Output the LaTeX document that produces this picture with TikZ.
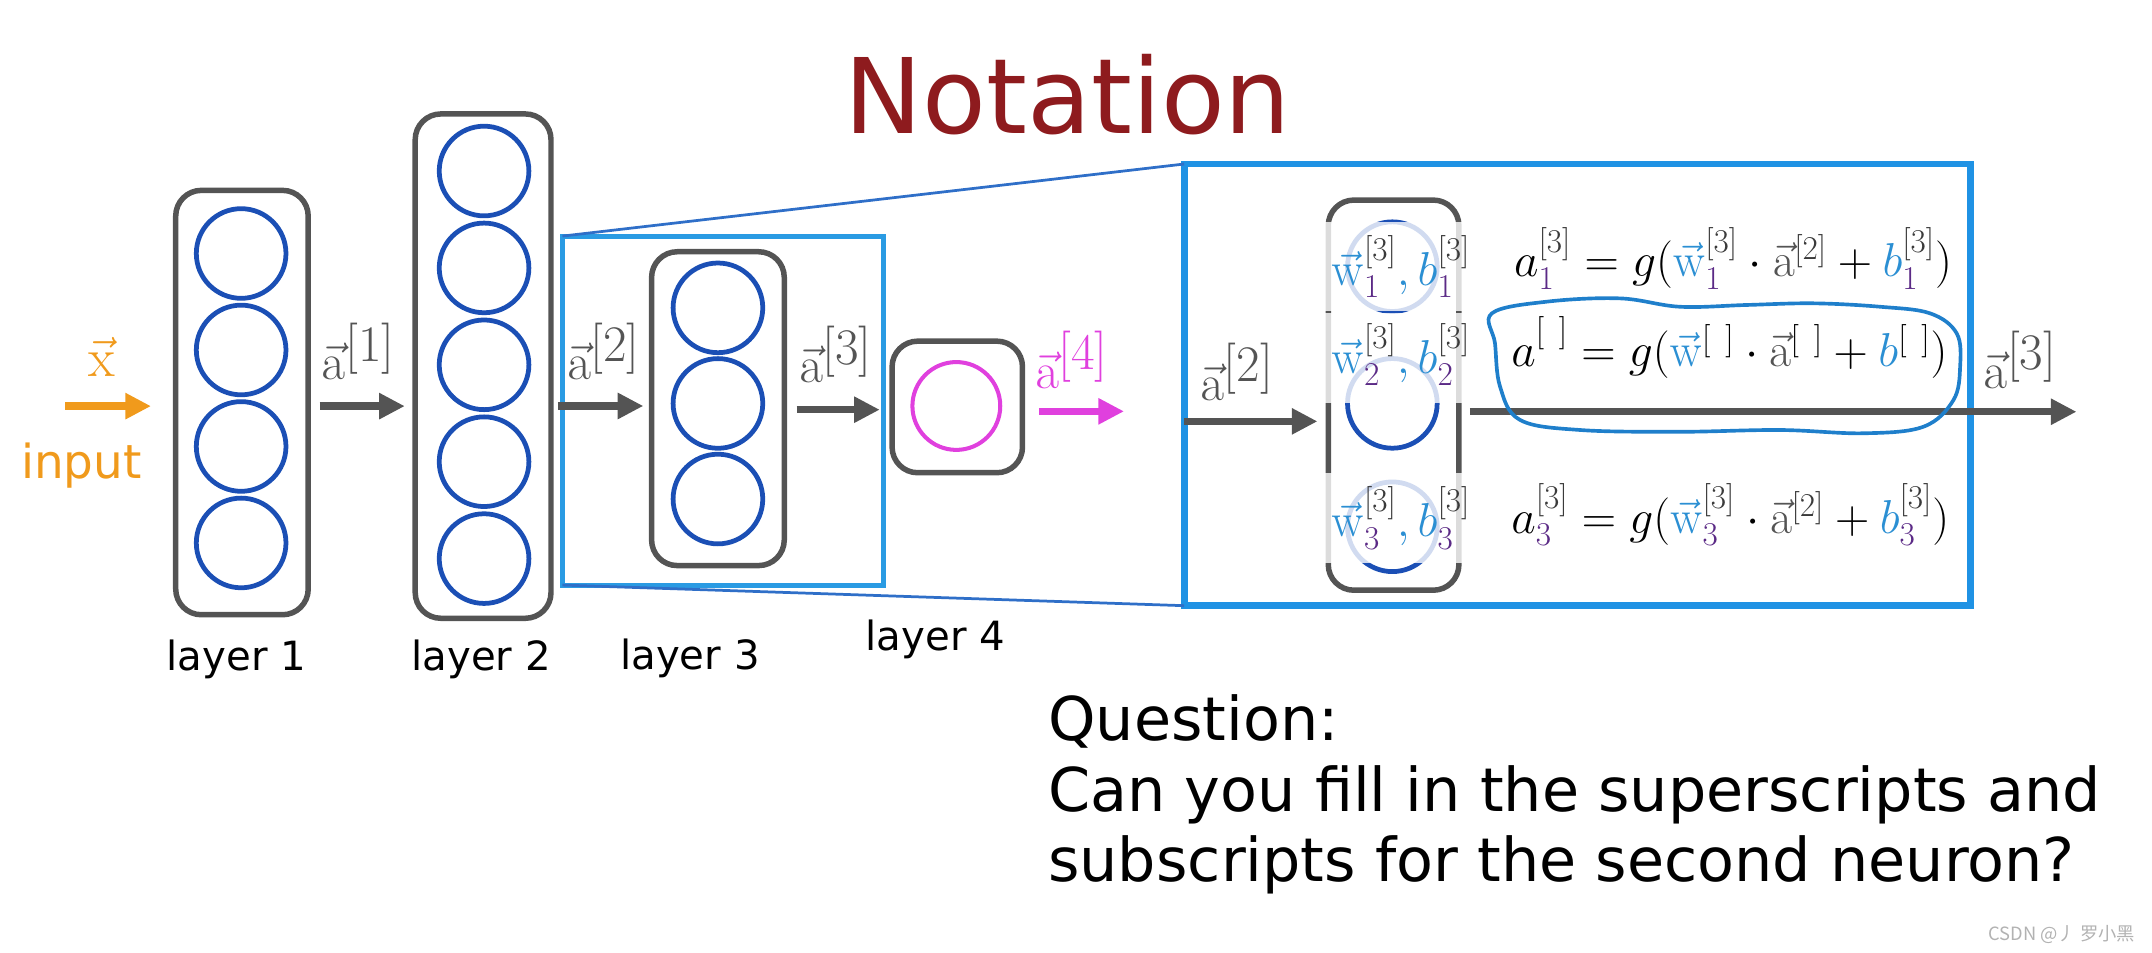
\documentclass[tikz,border=0pt]{standalone}
\usepackage{fix-cm}
\usepackage[no-math]{fontspec}
\setmainfont{DejaVu Sans}
\newfontfamily\cjkfont{Noto Sans CJK SC}
\usepackage{amsmath}
\usetikzlibrary{arrows.meta}
\definecolor{boxgray}{HTML}{545454}
\definecolor{neuronblue}{HTML}{1B4FB5}
\definecolor{hlblue}{HTML}{2A9BE3}
\definecolor{zoomblue}{HTML}{2F6FC8}
\definecolor{bigblue}{HTML}{1F92E4}
\definecolor{inorange}{HTML}{F09A1C}
\definecolor{outpink}{HTML}{E040DE}
\definecolor{titlered}{HTML}{8E1B1E}
\definecolor{wblue}{HTML}{2B8FD3}
\definecolor{ixpurple}{HTML}{5B2A86}
\definecolor{supgray}{HTML}{3A3A3A}
\definecolor{inkblue}{HTML}{1F7FCB}

\newcommand{\avec}{{\color{boxgray}\vec{\mathrm{a}}}}
\newcommand{\wvec}{{\color{wblue}\vec{\mathrm{w}}}}
\newcommand{\bw}{{\color{wblue}b}}
\newcommand{\ix}[1]{{\color{ixpurple}#1}}
\newcommand{\lay}[1]{{\color{supgray}[#1]}}
\newcommand{\actv}[1]{$\vec{\mathrm{a}}^{\textstyle[#1]}$}

\tikzset{
  layerbox/.style={draw=boxgray, line width=3pt, rounded corners=14pt, inner sep=0pt, outer sep=0pt},
  neuron/.style={circle, draw=neuronblue, line width=2.6pt, minimum size=49pt, inner sep=0pt},
  flow/.style={draw=boxgray, line width=4pt, -{Triangle[length=14pt,width=13.5pt]}},
  zoomline/.style={draw=zoomblue, line width=1.5pt},
  alab/.style={anchor=base west, inner sep=0pt, text=boxgray, font=\fontsize{28}{32}\selectfont},
  eqlab/.style={anchor=base west, inner sep=0pt, font=\fontsize{26}{30}\selectfont},
  layerlab/.style={anchor=base, inner sep=0pt, font=\fontsize{22}{26}\selectfont},
  wbbg/.style={fill=white, fill opacity=0.8},
  qline/.style={anchor=base west, inner sep=0pt, font=\fontsize{33}{39}\selectfont}
}

\begin{document}
\begin{tikzpicture}[x=0.75pt,y=0.75pt,yscale=-1,xscale=1]
\useasboundingbox (0,0) rectangle (1568,694);

% Title
\node[anchor=base, inner sep=0pt, text=titlered, font=\fontsize{57}{62}\selectfont] (title) at (778,97.6) {Notation};

% Highlight box round layer 3 and zoom lines
\node[draw=hlblue, line width=2.7pt, minimum width=175.65pt, minimum height=190.7pt, inner sep=0pt, outer sep=0pt] (hl) at (526.9,299.15) {};
\node[draw=bigblue, line width=3.7pt, minimum width=429.9pt, minimum height=241.35pt, inner sep=0pt, outer sep=0pt] (big) at (1149.4,280.4) {};
\draw[zoomline] (hl.north west) -- (big.north west);
\draw[zoomline] (hl.south west) -- (big.south west);

% Layer boxes
\node[layerbox, minimum width=72.4pt, minimum height=231.9pt] (l1) at (176.3,293.3) {};
\node[layerbox, minimum width=74.2pt, minimum height=275.6pt] (l2) at (352,266.75) {};
\node[layerbox, minimum width=72.5pt, minimum height=171.5pt] (l3) at (523.1,297.75) {};
\node[layerbox, minimum width=71.25pt, minimum height=71.9pt] (l4) at (697.5,296.5) {};

% Neurons
\foreach \i in {1,...,4}
  \node[neuron] (n1\i) at (175.7,{184.7+70.3*(\i-1)}) {};
\foreach \i in {1,...,5}
  \node[neuron] (n2\i) at (352.7,{124.6+70.6*(\i-1)}) {};
\foreach \i in {1,...,3}
  \node[neuron] (n3\i) at (523.1,{224.3+69.65*(\i-1)}) {};
\node[neuron, draw=outpink, line width=2.2pt, minimum size=48pt] (n41) at (696.8,295.8) {};

% Layer names
\node[layerlab] (name1) at (172.2,488.8) {layer 1};
\node[layerlab] (name2) at (350.6,488.8) {layer 2};
\node[layerlab] (name3) at (502.7,487.5) {layer 3};
\node[layerlab] (name4) at (681.5,473.7) {layer 4};

% Input
\coordinate (xin) at (47.4,295.9);
\draw[flow, draw=inorange, shorten >=13.5pt] (xin) -- (l1.west |- xin);
\node[anchor=base, inner sep=0pt, text=inorange, font=\fontsize{30}{34}\selectfont] (xlab) at (73.9,274.1) {$\vec{\mathrm{x}}$};
\node[anchor=base, inner sep=0pt, text=inorange, font=\fontsize{25.6}{30}\selectfont] (inlab) at (59.3,348.3) {input};

% Activations between layers
\draw[flow, shorten <=6.3pt, shorten >=5.7pt] (l1.east |- 0,295.9) -- (l2.west |- 0,295.9);
\node[alab] (a1) at (234.2,276.7) {\actv{1}};
\draw[flow, shorten <=3.8pt, shorten >=4.5pt] (l2.east |- 0,295.8) -- (l3.west |- 0,295.8);
\node[alab] (a2) at (412.9,276.7) {\actv{2}};
\draw[flow, shorten <=6.8pt, shorten >=6.75pt] (l3.east |- 0,298.5) -- (l4.west |- 0,298.5);
\node[alab] (a3) at (582,279) {\actv{3}};
\coordinate (aout4) at (819,299.7);
\draw[flow, draw=outpink, shorten <=9pt] (l4.east |- aout4) -- (aout4);
\node[alab, text=outpink] (a4) at (754,283) {\actv{4}};

% Zoomed layer 3
\node[layerbox, minimum width=71.4pt, minimum height=213.2pt] (z3) at (1015.4,287.9) {};
\node[neuron] (z31) at (1014.5,194.3) {};
\node[neuron] (z32) at (1014.5,293.9) {};
\node[neuron] (z33) at (1014.5,383.8) {};
\draw[flow, shorten >=5.9pt] (big.west |- 0,307) -- (z3.west |- 0,307);
\node[alab] (a2in) at (874.4,291.5) {\actv{2}};
\coordinate (aout) at (1513,300);
\draw[flow, shorten <=6pt] (z3.east |- aout) -- (aout);
\node[alab] (a3out) at (1445,283) {\actv{3}};

% Text Node: parameters of each neuron
\fill[wbbg] (962,161.8) rectangle (1084,226.6);
\fill[wbbg] (962,228) rectangle (1084,293.6);
\fill[wbbg] (962,344.6) rectangle (1084,410.2);
\node[eqlab] (wb1) at (970,207.7) {$\wvec^{\lay3}_{\ix1}{\color{wblue},}\,\bw^{\lay3}_{\ix1}$};
\node[eqlab] (wb2) at (970,272) {$\wvec^{\lay3}_{\ix2}{\color{wblue},}\,\bw^{\lay3}_{\ix2}$};
\node[eqlab] (wb3) at (970,391) {$\wvec^{\lay3}_{\ix3}{\color{wblue},}\,\bw^{\lay3}_{\ix3}$};

% Text Node: equations
\node[eqlab] (eq1) at (1103,201.6) {$a^{\lay3}_{\ix1} = g(\wvec^{\lay3}_{\ix1}\cdot\avec^{\lay2} + \bw^{\lay3}_{\ix1})$};
\node[eqlab] (eq2) at (1101,267) {$a^{[\:\:]}_{\phantom{1}} = g(\wvec^{[\:\:]}\cdot\avec^{[\:\:]} + \bw^{[\:\:]})$};
\node[eqlab] (eq3) at (1101,388.6) {$a^{\lay3}_{\ix3} = g(\wvec^{\lay3}_{\ix3}\cdot\avec^{\lay2} + \bw^{\lay3}_{\ix3})$};

% Hand drawn ring round the second equation
\draw[draw=inkblue, line width=2pt] plot[smooth cycle, tension=0.6] coordinates {
  (1087,228.3) (1127,219.8) (1180.4,217.4) (1224,223.5) (1272.7,222.2) (1321.3,221)
  (1369.9,223.5) (1406.3,228.3) (1425.7,242.9) (1428.2,267.2) (1423.3,291.5)
  (1401.5,310.9) (1357.7,315.7) (1297,313.3) (1224,314.6) (1151.3,313.3)
  (1107.6,306) (1093,281.8) (1089.3,250.2)};

% Question
\node[qline] (q1) at (763.5,539.2) {Question:};
\node[qline] (q2) at (763.5,591.4) {Can you fill in the superscripts and};
\node[qline] (q3) at (763.5,642.4) {subscripts for the second neuron?};

% Watermark
\node[anchor=base east, inner sep=0pt, text=gray!60, font=\cjkfont\fontsize{10}{12}\selectfont] (mark) at (1556,685) {CSDN @丿 罗小黑};

\end{tikzpicture}
\end{document}
